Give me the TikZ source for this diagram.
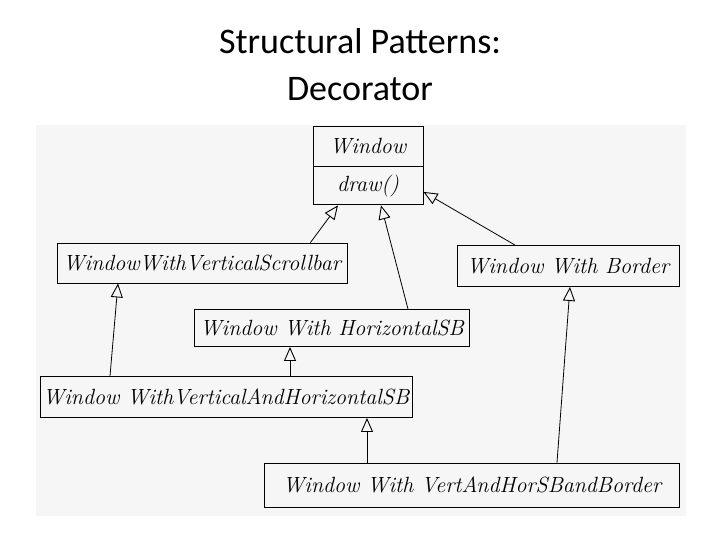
\documentclass[tikz,border=0pt]{standalone}
\usepackage{fontspec}
\newfontfamily\titlefont{Carlito}
\usetikzlibrary{arrows.meta}
\definecolor{scangray}{RGB}{246,246,246}
\tikzset{
  cls/.style={
    draw=black,
    line width=0.9pt,
    inner sep=1pt,
    font=\fontsize{22}{24}\selectfont\itshape
  },
  inherit/.style={
    line width=0.8pt,
    -{Triangle[open,length=14pt,width=12pt,line width=0.9pt]}
  }
}

\begin{document}
\begin{tikzpicture}[x=1pt,y=-1pt]
  \useasboundingbox (0,0) rectangle (720,540);
  \fill[white] (0,0) rectangle (720,540);
  \fill[scangray] (36,125) rectangle (686,516);
  \node[font=\titlefont\fontsize{36}{40}\selectfont] (title) at (360,41) {Structural Patterns:};
  \node[font=\titlefont\fontsize{36}{40}\selectfont] (subtitle) at (360,89) {Decorator};
  \node[cls, minimum width=110pt, minimum height=40pt] (win) at (368,146) {Window};
  \node[cls, minimum width=110pt, minimum height=38pt, anchor=north] (windraw) at (win.south) {draw()};
  \node[cls, minimum width=290pt, minimum height=40pt] (vsb) at (202,263) {WindowWithVerticalScrollbar};
  \node[cls, minimum width=222pt, minimum height=41pt] (wwb) at (568,266) {Window With Border};
  \node[cls, minimum width=275pt, minimum height=37pt] (hsb) at (332,328) {Window With HorizontalSB};
  \node[cls, minimum width=372pt, minimum height=41pt] (vhsb) at (226,397) {Window WithVerticalAndHorizontalSB};
  \node[cls, minimum width=415pt, minimum height=44pt] (vhb) at (472,485) {Window With VertAndHorSBandBorder};
  \draw[inherit] ([xshift=-37pt]vsb.north east) -- ([xshift=-30pt]windraw.south);
  \draw[inherit] ([xshift=76pt]hsb.north) -- ([xshift=13pt]windraw.south);
  \draw[inherit] ([xshift=-53pt]wwb.north) -- ([yshift=-6pt]windraw.east);
  \draw[inherit] ([xshift=-116pt]vhsb.north) -- ([xshift=-84pt]vsb.south);
  \draw[inherit] ([xshift=64pt]vhsb.north) -- ([xshift=-42pt]hsb.south);
  \draw[inherit] ([xshift=-105pt]vhb.north) -- ([xshift=141pt]vhsb.south);
  \draw[inherit] ([xshift=85pt]vhb.north) -- ([xshift=2pt]wwb.south);
\end{tikzpicture}
\end{document}
